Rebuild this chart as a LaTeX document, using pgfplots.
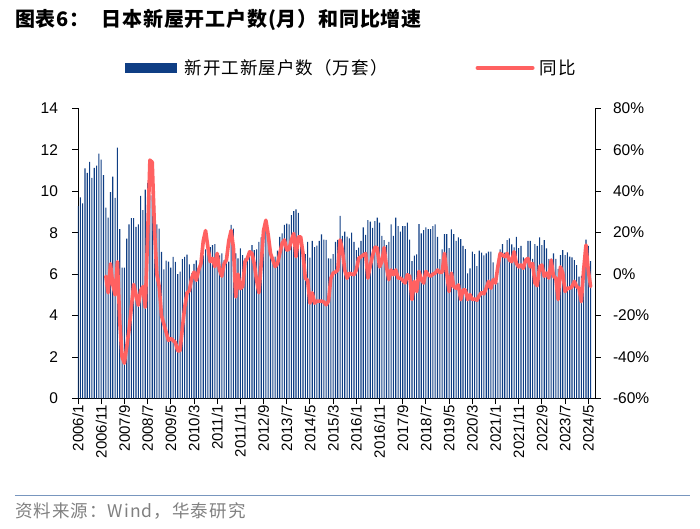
\documentclass[border=0pt]{standalone}
\usepackage{pgfplots}
\pgfplotsset{compat=1.18}
\usepackage{pgfplotstable}
\usepackage{fontspec}
\setmainfont{Liberation Sans}
\newfontfamily\cjk{Noto Sans CJK SC}
\newfontfamily\cjkt{Noto Sans CJK SC}[LetterSpace=4]
\newfontfamily\cjkl{Noto Sans CJK SC}[LetterSpace=6]
\definecolor{barblue}{RGB}{15,62,132}
\definecolor{linered}{RGB}{255,97,97}
\definecolor{sepblue}{RGB}{120,150,190}
\definecolor{foot}{RGB}{128,128,128}

\pgfplotstableread{
x y
0 9.28
1 9.70
2 9.41
3 11.10
4 10.88
5 11.41
6 10.64
7 11.12
8 11.23
9 11.81
10 11.52
11 10.77
12 9.21
13 8.72
14 9.95
15 10.70
16 9.68
17 12.10
18 8.17
19 6.31
20 6.31
21 7.71
22 8.40
23 8.70
24 8.70
25 8.28
26 8.40
27 9.77
28 9.09
29 10.08
30 10.40
31 9.80
32 9.80
33 9.30
34 8.40
35 8.20
36 7.07
37 6.23
38 6.65
39 6.60
40 6.31
41 6.83
42 6.59
43 6.00
44 6.12
45 6.72
46 6.83
47 6.94
48 6.47
49 6.04
50 6.50
51 6.66
52 6.04
53 6.88
54 6.90
55 7.20
56 7.30
57 7.30
58 7.40
59 7.45
60 6.80
61 6.90
62 7.00
63 6.68
64 6.52
65 6.60
66 8.37
67 8.20
68 7.00
69 6.76
70 7.24
71 6.92
72 6.76
73 6.84
74 7.08
75 7.40
76 7.16
77 7.20
78 7.56
79 7.77
80 8.20
81 8.50
82 7.64
83 7.16
84 6.60
85 6.84
86 7.13
87 7.80
88 7.96
89 8.37
90 8.44
91 8.40
92 8.85
93 9.04
94 9.12
95 8.96
96 7.80
97 7.25
98 6.96
99 7.56
100 6.80
101 7.60
102 7.30
103 7.37
104 7.60
105 7.92
106 7.66
107 7.65
108 6.76
109 6.75
110 6.97
111 7.56
112 7.65
113 8.81
114 7.84
115 8.05
116 7.81
117 7.73
118 8.00
119 7.56
120 7.16
121 7.28
122 7.60
123 8.25
124 7.89
125 8.60
126 8.53
127 8.23
128 8.56
129 8.73
130 8.49
131 7.84
132 7.64
133 7.40
134 7.56
135 8.40
136 7.84
137 8.73
138 8.32
139 8.05
140 8.32
141 8.32
142 8.48
143 7.67
144 6.63
145 6.89
146 6.95
147 8.41
148 7.96
149 8.12
150 8.25
151 8.17
152 8.17
153 8.32
154 8.40
155 7.80
156 6.72
157 7.20
158 7.93
159 7.93
160 7.25
161 8.16
162 7.93
163 7.60
164 7.77
165 7.69
166 7.36
167 7.21
168 6.04
169 6.28
170 7.08
171 6.96
172 6.39
173 7.13
174 7.04
175 6.91
176 7.00
177 7.08
178 7.08
179 6.57
180 5.80
181 5.59
182 7.20
183 7.45
184 7.04
185 7.64
186 7.72
187 7.43
188 7.29
189 7.80
190 7.25
191 7.36
192 6.81
193 6.68
194 7.61
195 7.61
196 6.73
197 7.45
198 7.36
199 7.77
200 7.40
201 7.64
202 7.24
203 6.73
204 6.73
205 7.00
206 6.73
207 6.25
208 6.92
209 7.16
210 6.92
211 7.05
212 6.84
213 6.81
214 6.68
215 6.44
216 5.88
217 5.91
218 6.84
219 7.67
220 7.36
221 6.63
}\bars

\pgfplotstableread{
x y
12 -1
13 -9
14 5
15 -5
16 -10
17 6
18 -23
19 -40
20 -43
21 -35
22 -27
23 -16
24 -5
25 -10
26 -15
27 -8
28 -6
29 -16
30 18
31 55
32 54
33 21
34 0
35 -6
36 -20
37 -24
38 -28
39 -32
40 -31
41 -32
42 -33
43 -37
44 -37
45 -26
46 -16
47 -9
48 -8
49 -2
50 1
51 -3
52 2
53 5
54 16
55 21
56 13
57 6
58 7.6
59 3.6
60 10
61 2
62 -1
63 5
64 6.8
65 16
66 21
67 13
68 -11
69 0
70 -7
71 -6
72 6
73 7.6
74 10.8
75 10
76 5
77 -3
78 -9
79 5
80 21
81 26
82 19
83 10
84 6.8
85 3.6
86 5
87 10
88 14.8
89 16.5
90 11.6
91 12
92 16.5
93 19.6
94 8.4
95 18
96 18
97 10
98 -2
99 -3
100 -14
101 -9
102 -14
103 -13
104 -13
105 -13
106 -13.5
107 -14.8
108 -13
109 -2
110 0.5
111 1
112 2
113 16.5
114 11.6
115 2
116 -2
117 0.5
118 0
119 -0.3
120 2
121 7.6
122 8.4
123 9.2
124 10
125 -1.9
126 4
127 9
128 13
129 12.8
130 3.5
131 6
132 12.8
133 3.5
134 -2.7
135 2
136 -0.3
137 2
138 -1.9
139 -1.9
140 -3
141 -4.3
142 -0.3
143 -1
144 -12.3
145 -3.5
146 -8.4
147 1.3
148 -2.7
149 -4.3
150 1.3
151 -0.3
152 -1
153 0
154 0.5
155 2
156 0.8
157 1
158 10
159 0
160 -8.4
161 0.5
162 -6
163 -6.8
164 -5.2
165 -12.3
166 -7.6
167 -7.6
168 -12.3
169 -9.9
170 -12.3
171 -12
172 -12.6
173 -10.4
174 -8.8
175 -9.5
176 -6.8
177 -3.5
178 -6.8
179 -2.7
180 -4.3
181 3.5
182 10
183 9.2
184 8.4
185 10
186 6.8
187 6
188 10.8
189 5.2
190 3.5
191 4.4
192 2.8
193 6.8
194 7.6
195 3.5
196 5.2
197 -4.3
198 -5.6
199 3.5
200 4.4
201 -1
202 0.5
203 -1.9
204 6.8
205 -1
206 -1.9
207 -12.3
208 3.5
209 0.5
210 -8.4
211 -6.8
212 -6.8
213 -6
214 -3.5
215 -6
216 -6.8
217 -13.3
218 2
219 14
220 2
221 -6
}\yoy

\begin{document}
\begin{tikzpicture}
\useasboundingbox (-78pt,-130.5pt) rectangle (622pt,398.5pt);
\begin{axis}[
  at={(0pt,0pt)}, anchor=south west,
  scale only axis, width=517pt, height=290.2pt,
  xmin=0, xmax=222.9, ymin=0, ymax=14,
  axis y line*=left, axis x line*=bottom,
  axis line style={-, line width=0.9pt, black},
  tick align=outside,
  major tick length=5.5pt,
  tick style={black, line width=0.9pt},
  /pgf/number format/assume math mode=true,
  xtick={0,10,...,220},
  xticklabels={2006/1,2006/11,2007/9,2008/7,2009/5,2010/3,2011/1,2011/11,2012/9,2013/7,2014/5,2015/3,2016/1,2016/11,2017/9,2018/7,2019/5,2020/3,2021/1,2021/11,2022/9,2023/7,2024/5},
  x tick label style={rotate=90, anchor=east, font=\fontsize{15}{15}\selectfont, inner sep=1pt},
  ytick={0,2,...,14},
  yticklabels={0,2,4,6,8,10,12,14},
  y tick label style={font=\fontsize{15.5}{15.5}\selectfont, xshift=-11pt},
]
\addplot[ybar, bar width=1.1pt, bar shift=0pt, fill=barblue, draw=none] table[x=x,y=y]{\bars};
\end{axis}
\begin{axis}[
  at={(0pt,0pt)}, anchor=south west,
  scale only axis, width=517pt, height=290.2pt,
  xmin=0, xmax=222.9, ymin=-60, ymax=80,
  axis y line*=right, axis x line=none,
  axis line style={-, line width=0.9pt, black},
  tick align=outside,
  major tick length=5.5pt,
  tick style={black, line width=0.9pt},
  /pgf/number format/assume math mode=true,
  ytick={-60,-40,...,80},
  yticklabels={-60\%,-40\%,-20\%,0\%,20\%,40\%,60\%,80\%},
  y tick label style={font=\fontsize{15.5}{15.5}\selectfont, xshift=9pt},
  legend columns=2,
  legend style={at={(axis description cs:0.0909,1.139)}, anchor=west, draw=none, fill=none,
    inner sep=0pt, font=\cjkl\fontsize{17.5}{17.5}\selectfont,
    /tikz/every even column/.append style={column sep=86pt}},
]
\addlegendimage{legend image code/.code={\fill[barblue] (0pt,-4.3pt) rectangle (51pt,4.3pt);}}
\addlegendentry{\hspace{6pt}新开工新屋户数（万套）}
\addplot[linered, line width=3.6pt, line join=round, line cap=round,
  legend image code/.code={\draw[linered, line width=4pt] (0pt,0pt) -- (55pt,0pt);}] table[x=x,y=y]{\yoy};
\addlegendentry{\hspace{3pt}同比}
\end{axis}
\node[anchor=west, inner sep=0pt, font=\cjkt\bfseries\fontsize{20}{20}\selectfont] at (-63pt,378.5pt) {图表6：\hspace{12pt}日本新屋开工户数(月）和同比增速};
\draw[sepblue, line width=1pt] (-63pt,-96.5pt) -- (612pt,-96.5pt);
\node[anchor=west, inner sep=0pt, text=foot, font=\cjkl\fontsize{17.5}{17.5}\selectfont] at (-63pt,-112.5pt) {资料来源：Wind，华泰研究};
\end{tikzpicture}
\end{document}
